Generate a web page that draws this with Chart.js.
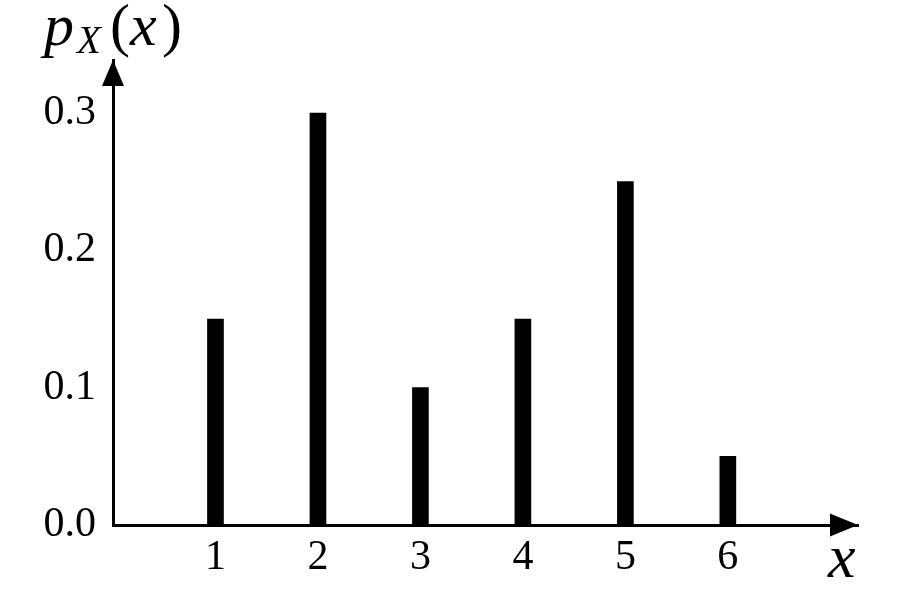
<!DOCTYPE html>
<html>
<head>
<meta charset="utf-8">
<script src="https://cdn.jsdelivr.net/npm/chart.js@4/dist/chart.umd.min.js"></script>
<style>
  html, body { margin: 0; padding: 0; background: #fff; }
  #wrap { width: 901px; height: 600px; }
</style>
</head>
<body>
<div id="wrap"><canvas id="pmf"></canvas></div>
<script>
// values
const xValues = [1, 2, 3, 4, 5, 6];
const probs = [0.15, 0.30, 0.10, 0.15, 0.25, 0.05];
const yTicks = [0, 0.1, 0.2, 0.3];
const xTicks = [1, 2, 3, 4, 5, 6];

const serif = '"Liberation Serif", "Times New Roman", serif';

// arrowheads and the p_X(x) / x labels
const axisDecor = {
    id: 'axisDecor',
    afterDraw(chart) {
        const ctx = chart.ctx;
        const a = chart.chartArea;
        const x0 = chart.scales.x.getPixelForValue(0);
        const y0 = chart.scales.y.getPixelForValue(0);
        ctx.save();
        ctx.fillStyle = '#000';
        // y arrow
        ctx.beginPath();
        ctx.moveTo(x0, a.top);
        ctx.lineTo(x0 - 11, a.top + 26);
        ctx.lineTo(x0 + 11, a.top + 26);
        ctx.closePath();
        ctx.fill();
        // x arrow
        ctx.beginPath();
        ctx.moveTo(a.right, y0);
        ctx.lineTo(a.right - 28, y0 - 11.5);
        ctx.lineTo(a.right - 28, y0 + 11.5);
        ctx.closePath();
        ctx.fill();

        ctx.textBaseline = 'alphabetic';
        ctx.textAlign = 'left';
        // p_X(x)
        const base = 45;
        ctx.font = 'italic 60px ' + serif;
        ctx.fillText('p', 44, base);
        ctx.font = 'italic 39px ' + serif;
        ctx.fillText('X', 77, base + 8);
        ctx.font = '60px ' + serif;
        ctx.fillText('(', 110, base);
        ctx.font = 'italic 60px ' + serif;
        ctx.fillText('x', 130, base);
        ctx.font = '60px ' + serif;
        ctx.fillText(')', 162, base);

        // x axis name
        ctx.font = 'italic 62px ' + serif;
        ctx.fillText('x', 828, 577);
        ctx.restore();
    }
};

new Chart(document.getElementById('pmf'), {
    type: 'bar',
    data: {
        datasets: [{
            data: xValues.map((v, i) => ({ x: v, y: probs[i] })),
            backgroundColor: '#000',
            borderWidth: 0,
            barThickness: 16
        }]
    },
    options: {
        responsive: true,
        maintainAspectRatio: false,
        animation: false,
        layout: { padding: { top: 60, right: 43, left: 0, bottom: 0 } },
        scales: {
            x: {
                type: 'linear',
                offset: false,
                min: 0,
                max: 7.27,
                afterBuildTicks: s => { s.ticks = xTicks.map(v => ({ value: v })); },
                afterFit: s => { s.height = 75; },
                grid: { display: false, drawTicks: false, offset: false },
                border: { display: true, color: '#000', width: 3 },
                ticks: {
                    color: '#000',
                    padding: 8,
                    maxRotation: 0,
                    font: { family: serif, size: 42 }
                }
            },
            y: {
                min: 0,
                max: 0.3386,
                afterBuildTicks: s => { s.ticks = yTicks.map(v => ({ value: v })); },
                afterFit: s => { s.width = 113; },
                grid: { display: false, drawTicks: false },
                border: { display: true, color: '#000', width: 3 },
                ticks: {
                    color: '#000',
                    padding: 17,
                    callback: v => Number(v).toFixed(1),
                    font: { family: serif, size: 42 }
                }
            }
        },
        plugins: {
            legend: { display: false },
            tooltip: { enabled: false }
        }
    },
    plugins: [axisDecor]
});
</script>
</body>
</html>
